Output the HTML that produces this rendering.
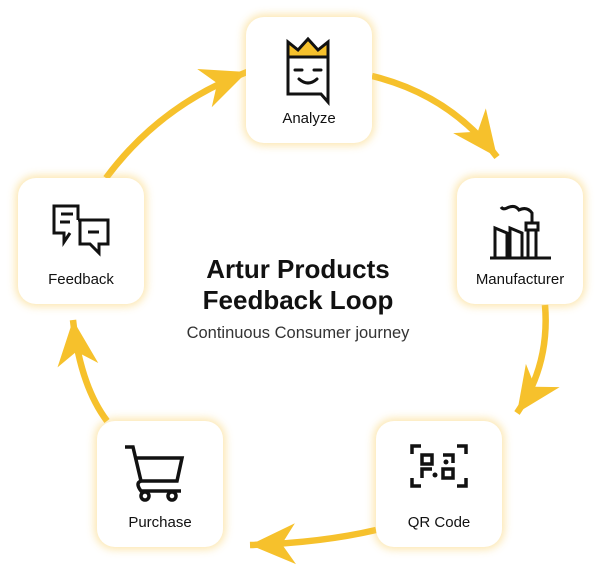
<!DOCTYPE html>
<html><head><style>
html,body{margin:0;padding:0;background:#fff;}
body{width:600px;height:565px;position:relative;overflow:hidden;font-family:"Liberation Sans",sans-serif;}
.box{position:absolute;width:126px;height:126px;background:#fff;border-radius:18px;box-shadow:0 0 8px 3px rgba(248,205,90,0.45);}
.lbl{position:absolute;left:0;right:0;text-align:center;font-size:15px;color:#111;top:93px;}
svg{position:absolute;left:0;top:0;}
.t{position:absolute;left:130px;width:336px;text-align:center;color:#111;}
</style></head><body>
<svg width="600" height="565" viewBox="0 0 600 565">
<defs>
<marker id="a" viewBox="0 0 10 10" markerWidth="7" markerHeight="7" refX="10" refY="5" orient="auto" markerUnits="strokeWidth">
<path d="M10,5 L0,0.5 L3,5 L0,9.5 Z" fill="#F6C12C"/>
</marker>
</defs>
<g fill="none" stroke="#F6C12C" stroke-width="6.5">
<path d="M372,76 Q450,95 497,157" marker-end="url(#a)"/>
<path d="M545,305 Q550,365 517,413" marker-end="url(#a)"/>
<path d="M376,530 Q320,543 250,545" marker-end="url(#a)"/>
<path d="M107,421 Q80,385 73,320" marker-end="url(#a)"/>
<path d="M106,178 Q160,105 247,72" marker-end="url(#a)"/>
</g>
</svg>

<div class="box" style="left:246px;top:17px;">
<svg width="126" height="126" viewBox="0 0 126 126">
<path d="M42,25 L42,40 L82,40 L82,25 L72,33 L62,22 L52,33 Z" fill="#F6C12C" stroke="#111" stroke-width="3"/>
<path d="M42,40 L42,77 L75,77 L82,85 L82,40 Z" fill="none" stroke="#111" stroke-width="3"/>
<path d="M49,53 L56,53 M68,53 L75,53 M53,62 Q62,70 71,62" stroke="#111" stroke-width="3" fill="none" stroke-linecap="round"/>
</svg>
<div class="lbl">Analyze</div></div>

<div class="box" style="left:457px;top:178px;">
<svg width="126" height="126" viewBox="0 0 126 126">
<g fill="none" stroke="#111" stroke-width="3">
<path d="M33,80 L94,80"/>
<path d="M38,80 L38,50 L50,55 L50,80 M53,80 L53,50 L65,55 L65,80 M71,80 L71,52 L79,52 L79,80 M69,45 L81,45 L81,52 L69,52 Z"/>
<path d="M75,45 L75,35 Q70,28 62,32 Q58,26 50,30 Q46,32 44,29"/>
</g>
</svg>
<div class="lbl">Manufacturer</div></div>

<div class="box" style="left:376px;top:421px;">
<svg width="126" height="126" viewBox="0 0 126 126">
<g fill="none" stroke="#111" stroke-width="3.5">
<path d="M36,33 L36,25 L45,25 M81,25 L90,25 L90,33 M36,57 L36,65 L45,65 M81,65 L90,65 L90,57"/>
<rect x="46" y="34" width="10" height="9"/><rect x="67" y="48" width="10" height="9"/>
<path d="M67,34 L77,34 L77,42 M46,57 L46,48 L56,48"/>
</g>
<circle cx="70" cy="41" r="2.5" fill="#111"/><circle cx="59" cy="54" r="2.5" fill="#111"/>
</svg>
<div class="lbl">QR Code</div></div>

<div class="box" style="left:97px;top:421px;">
<svg width="126" height="126" viewBox="0 0 126 126">
<g fill="none" stroke="#111" stroke-width="3.5">
<path d="M28,26 L36,26 L44,60 L80,60 L85,37 L38,37"/>
<path d="M44,60 Q38,62 44,70 L84,70"/>
<circle cx="48" cy="75" r="4"/><circle cx="75" cy="75" r="4"/>
</g>
</svg>
<div class="lbl">Purchase</div></div>

<div class="box" style="left:18px;top:178px;">
<svg width="126" height="126" viewBox="0 0 126 126">
<g fill="none" stroke="#111" stroke-width="3">
<path d="M60,42 L60,28 L36,28 L36,55 L46,55 L46,64 L52,55"/>
<path d="M43,36 L55,36 M42,44 L52,44"/>
<path d="M60,42 L90,42 L90,66 L81,66 L81,75 L72,66 L62,66 L62,42"/>
<path d="M70,54 L81,54"/>
</g>
</svg>
<div class="lbl">Feedback</div></div>

<div class="t" style="top:254px;font-size:26px;font-weight:bold;line-height:31px;">Artur Products<br>Feedback Loop</div>
<div class="t" style="top:324px;font-size:16.5px;color:#333;">Continuous Consumer journey</div>
</body></html>
